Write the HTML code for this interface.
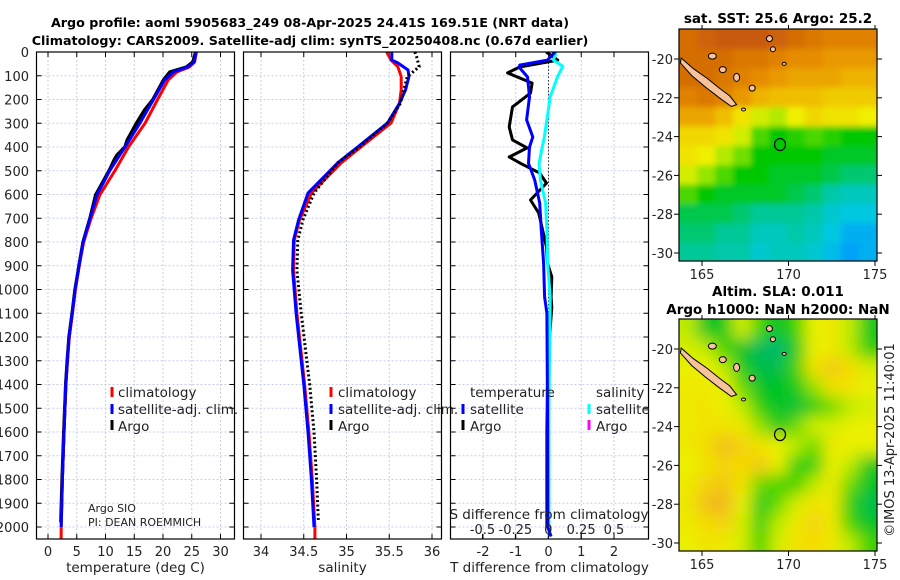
<!DOCTYPE html>
<html><head><meta charset="utf-8">
<style>
html,body{margin:0;padding:0;background:#fff;}
svg{display:block;font-family:"DejaVu Sans","Liberation Sans",sans-serif;}
</style></head>
<body>
<svg id="fig" width="900" height="580" viewBox="0 0 900 580" xmlns="http://www.w3.org/2000/svg">
<defs>
<clipPath id="cp1"><rect x="36.5" y="52" width="198" height="487"/></clipPath>
<clipPath id="cp2"><rect x="243.5" y="52" width="198" height="487"/></clipPath>
<clipPath id="cp3"><rect x="450.5" y="52" width="198" height="487"/></clipPath>
<clipPath id="cpm1"><rect x="679" y="29" width="198" height="232"/></clipPath>
<clipPath id="cpm2"><rect x="679" y="319" width="198" height="232"/></clipPath>
<filter id="blur1" x="-10%" y="-10%" width="120%" height="120%"><feGaussianBlur stdDeviation="3"/></filter>
<filter id="blur2" x="-10%" y="-10%" width="120%" height="120%"><feGaussianBlur stdDeviation="8"/></filter>
</defs>
<g font-weight="bold" font-size="12.7" text-anchor="middle">
<text x="310" y="27">Argo profile: aoml 5905683_249 08-Apr-2025 24.41S 169.51E (NRT data)</text>
<text x="310" y="45">Climatology: CARS2009. Satellite-adj clim: synTS_20250408.nc (0.67d earlier)</text>
</g>
<g id="root"></g>
</svg>
<script>
// ---------- data ----------
const depthTicks = [0,100,200,300,400,500,600,700,800,900,1000,1100,1200,1300,1400,1500,1600,1700,1800,1900,2000];
const tempTicks = [0,5,10,15,20,25,30];
const salTicks = [34,34.5,35,35.5,36];
const salTickLabels = ["34","34.5","35","35.5","36"];
const dTTicks = [-2,-1,0,1,2];
const dSTicks = [-0.5,-0.25,0,0.25,0.5];
const dSTickLabels = ["-0.5","-0.25","0","0.25","0.5"];

const tArgoDepth = [0,42,63,84,118,202,244,299,370,400,434,455,497,602,700,800,897,1002,1099,1200,1297,1394,1600,1800,1980];
const tArgoVal   = [25.7,25.2,24.1,21.2,20.1,18.2,16.8,15.4,13.8,13.4,12.0,11.5,10.7,8.3,7.3,6.1,5.4,4.7,4.2,3.65,3.35,3.1,2.75,2.45,2.25];
const tClimDepth = [0,42,63,84,118,202,299,400,497,602,700,800,897,1002,1099,1200,1297,1394,1600,1800,2000,2050];
const tClimVal   = [25.8,25.5,24.6,22.4,20.9,19.0,16.9,14.0,11.7,9.0,7.5,6.2,5.45,4.75,4.25,3.7,3.38,3.12,2.78,2.5,2.3,2.28];
const tSatDepth  = [0,42,63,84,118,202,299,400,497,602,700,800,897,1002,1099,1200,1297,1394,1600,1800,2000];
const tSatVal    = [25.8,25.4,24.3,21.8,20.3,18.3,16.0,13.4,10.8,8.5,7.3,6.1,5.4,4.7,4.2,3.65,3.35,3.1,2.78,2.5,2.3];

const sArgoDepth = [0,20,62,104,216,299,400,466,594,707,792,918,1100,1400,1600,1800,1970];
const sArgoVal   = [35.8,35.82,35.85,35.71,35.63,35.48,35.15,34.9,34.62,34.49,34.43,34.42,34.47,34.57,34.62,34.65,34.67];
const sClimDepth = [0,34,62,104,160,216,299,400,466,594,707,792,918,1100,1400,1600,1800,2000,2050];
const sClimVal   = [35.47,35.52,35.6,35.64,35.64,35.62,35.52,35.17,34.94,34.59,34.45,34.39,34.38,34.42,34.51,34.56,34.6,34.63,34.63];
const sSatDepth  = [0,34,46,76,104,160,216,299,400,466,594,707,792,918,1100,1400,1600,1800,2000];
const sSatVal    = [35.53,35.53,35.6,35.72,35.73,35.69,35.62,35.48,35.13,34.9,34.55,34.44,34.38,34.37,34.41,34.5,34.55,34.59,34.62];

const dTArgoDepth = [0,34,63,88,131,173,231,316,370,404,442,469,510,552,623,678,750,821,889,947,1031,1074,1300,1600,1900,2000];
const dTArgoVal   = [-0.07,0.28,-0.88,-1.25,-0.5,-0.55,-1.1,-1.2,-1.1,-0.65,-1.2,-0.85,-0.27,-0.06,-0.55,-0.3,-0.18,-0.06,-0.03,0.1,0.08,0.1,-0.02,-0.05,-0.05,-0.05];
const dTSatDepth  = [0,34,55,67,105,189,286,358,400,469,539,636,750,889,1031,1100,1500,2000,2040];
const dTSatVal    = [0.2,-0.03,-0.88,-0.88,-0.64,-0.58,-0.67,-0.48,-0.58,-0.61,-0.42,-0.27,-0.22,-0.15,-0.12,-0.05,-0.03,-0.02,0.08];
const dSSatDepth  = [0,34,60,105,189,286,358,469,539,636,750,889,1031,1500,2000,2040];
const dSSatVal    = [0.06,0.04,0.11,0.07,0.015,-0.01,-0.03,-0.07,-0.06,-0.02,-0.01,-0.005,0.015,0.005,0.005,0.01];

const mapLonTicks = [165,170,175];
const mapLatTicks = [-20,-22,-24,-26,-28,-30];
const sstGrid = [
[26.8,26.9,27.0,27.0,27.0,26.9,26.8,26.7,26.6,26.6,26.6],
[26.8,26.8,26.8,26.7,26.7,26.6,26.5,26.5,26.4,26.4,26.4],
[26.8,26.8,26.7,26.6,26.5,26.4,26.3,26.3,26.3,26.2,26.2],
[26.6,26.7,26.6,26.4,26.2,26.1,26.1,26.1,26.0,26.0,26.0],
[26.3,26.3,26.1,25.8,25.6,25.5,25.7,25.9,25.8,25.8,25.7],
[25.9,25.9,25.8,25.6,25.2,25.0,25.1,25.2,25.1,25.0,25.0],
[25.8,25.7,25.5,25.3,25.0,25.0,25.0,25.0,24.9,24.9,24.9],
[25.6,25.4,25.2,25.0,25.0,24.9,24.9,24.9,24.8,24.7,24.7],
[25.2,25.0,24.9,24.9,24.9,24.9,24.8,24.7,24.5,24.4,24.4],
[24.8,24.8,24.8,24.7,24.6,24.6,24.6,24.5,24.3,24.2,24.2],
[24.7,24.7,24.6,24.6,24.4,24.4,24.5,24.4,24.2,24.0,24.0],
[24.6,24.6,24.5,24.5,24.3,24.4,24.4,24.3,24.1,23.9,24.0]];
const slaGrid = [
[0.0,-0.6,-0.5,0.1,-0.3,-0.6,-0.3,0.2,0.3,0.0,-0.5],
[0.1,0.0,-0.3,-0.6,-0.9,-1.0,-0.5,0.2,0.3,0.0,-0.4],
[0.2,0.2,0.0,-0.5,-0.8,-0.8,-0.3,0.4,0.7,0.5,0.1],
[0.3,0.3,0.2,-0.2,-0.6,-0.6,-0.5,-0.1,0.4,0.4,0.2],
[0.3,0.4,0.2,0.0,-0.4,-0.6,-0.7,-0.4,-0.2,0.0,0.1],
[0.3,0.4,0.4,0.3,-0.1,-0.5,-0.2,0.1,0.1,0.2,0.2],
[0.3,0.5,0.8,0.6,0.4,0.2,0.0,-0.2,0.3,0.2,0.2],
[0.2,0.4,0.6,0.5,0.7,0.2,-0.4,-0.4,0.2,0.0,-0.5],
[0.3,0.6,0.7,0.4,-0.2,-0.3,-0.3,0.0,0.3,-0.2,-0.6],
[0.3,0.8,0.9,0.2,-0.5,-0.2,0.1,0.4,0.3,-0.4,-0.8],
[0.3,0.5,0.6,0.1,-0.4,0.0,0.3,0.6,0.3,-0.3,-0.6],
[0.2,0.4,0.3,0.1,-0.3,0.1,0.4,0.5,0.3,0.0,-0.3]];
const gridLon0 = 163.7, gridLat0 = -18.5;
const argoLon = 169.51, argoLat = -24.41;

// ---------- helpers ----------
const NS = "http://www.w3.org/2000/svg";
const root = document.getElementById('root');
function mk(tag, attrs, parent){ const e=document.createElementNS(NS,tag); for(const k in attrs) e.setAttribute(k,attrs[k]); (parent||root).appendChild(e); return e; }
function lin(d0,d1,r0,r1){ return v => r0 + (v-d0)*(r1-r0)/(d1-d0); }

const yD = lin(0,2000,52,527);
const panels = [
 {x0:36.5,x1:234.5,sx:lin(0,30,48,220.5),cp:'cp1',name:'temperature'},
 {x0:243.5,x1:441.5,sx:lin(34,36,261,432),cp:'cp2',name:'salinity'},
 {x0:450.5,x1:648.5,sx:lin(-2,2,483,614),cp:'cp3',name:'difference'}
];
const sxS = lin(-0.5,0.5,482.5,614);

function gridAndAxes(p, xt, xtl, labelText){
  const g = mk('g',{});
  
  
  depthTicks.forEach(d=>{
    mk('line',{x1:p.x0,x2:p.x1,y1:yD(d),y2:yD(d),stroke:'#c8cdea','stroke-width':1,'stroke-dasharray':'2 2'},g);
    mk('line',{x1:p.x0,x2:p.x0+5,y1:yD(d),y2:yD(d),stroke:'#000'},g);
    mk('line',{x1:p.x1,x2:p.x1-5,y1:yD(d),y2:yD(d),stroke:'#000'},g);
  });
  xt.forEach((v,i)=>{
    const x=p.sx(v);
    mk('line',{x1:x,x2:x,y1:52,y2:539,stroke:'#c8cdea','stroke-width':1,'stroke-dasharray':'2 2'},g);
    mk('line',{x1:x,x2:x,y1:539,y2:534,stroke:'#000'},g);
    mk('line',{x1:x,x2:x,y1:52,y2:57,stroke:'#000'},g);
    const t=mk('text',{x:x,y:556,'font-size':13,'text-anchor':'middle',fill:'#222'},g);
    t.textContent = xtl[i];
    
    
  });
  const lab = mk('text',{x:(p.x0+p.x1)/2,y:572,'font-size':13.5,'text-anchor':'middle',fill:'#222'},g);
  lab.textContent = labelText;
  
  
  return g;
}
function frame(p){
  const r = mk('rect',{x:p.x0,y:52,width:p.x1-p.x0,height:487,fill:'none',stroke:'#000','stroke-width':1.2});
  
  
}
function line(sx, depths, vals, color, w, dash, cp, name){
  const pts = depths.map((d,i)=> sx(vals[i]).toFixed(1)+','+yD(d).toFixed(1)).join(' ');
  const a = {points:pts,fill:'none',stroke:color,'stroke-width':w,'stroke-linejoin':'round','clip-path':'url(#'+cp+')'};
  if(dash) a['stroke-dasharray']=dash;
  const e = mk('polyline',a);
  
  
  return e;
}
function txt(x,y,s,size,attrs,name){
  const t = mk('text',Object.assign({x:x,y:y,'font-size':size,fill:'#222'},attrs||{}));
  t.textContent = s;
  
  
  return t;
}
function marker(x,y,color,name){
  const r = mk('rect',{x:x-1.5,y:y-10,width:3,height:10,fill:color});
  
  
}

depthTicks.forEach(d=>{ txt(29,yD(d)+5,String(d),13,{'text-anchor':'end'},'depth-tick-label'); });

// Panel 1
gridAndAxes(panels[0], tempTicks, tempTicks.map(String), 'temperature (deg C)');
line(panels[0].sx, tArgoDepth, tArgoVal, '#000', 3.5, null, 'cp1', 'temp-argo-line');
line(panels[0].sx, tClimDepth, tClimVal, '#f00', 3, null, 'cp1', 'temp-climatology-line');
line(panels[0].sx, tSatDepth, tSatVal, '#00f', 3, null, 'cp1', 'temp-satellite-line');
frame(panels[0]);
marker(112,397,'#f00','legend-climatology-marker'); txt(118,397,'climatology',13.5,{},'legend-climatology');
marker(112,414,'#00f','legend-satellite-marker'); txt(118,414,'satellite-adj. clim.',13.5,{},'legend-satellite');
marker(112,430,'#000','legend-argo-marker'); txt(118,431,'Argo',13.5,{},'legend-argo');
txt(88,512,'Argo SIO',11,{},'credit-argo-sio');
txt(88,526,'PI: DEAN ROEMMICH',11,{},'credit-pi');

// Panel 2
gridAndAxes(panels[1], salTicks, salTickLabels, 'salinity');
line(panels[1].sx, sClimDepth, sClimVal, '#f00', 3, null, 'cp2', 'sal-climatology-line');
line(panels[1].sx, sSatDepth, sSatVal, '#00f', 3, null, 'cp2', 'sal-satellite-line');
line(panels[1].sx, sArgoDepth, sArgoVal, '#000', 3, '2 2.5', 'cp2', 'sal-argo-line');
frame(panels[1]);
marker(331,397,'#f00','legend-sal-climatology-marker'); txt(338,397,'climatology',13.5,{},'legend-sal-climatology');
marker(331,414,'#00f','legend-sal-satellite-marker'); txt(338,414,'satellite-adj. clim.',13.5,{},'legend-sal-satellite');
marker(331,430,'#000','legend-sal-argo-marker'); txt(338,431,'Argo',13.5,{},'legend-sal-argo');

// Panel 3
gridAndAxes(panels[2], dTTicks, dTTicks.map(String), 'T difference from climatology');
const zl = mk('line',{x1:panels[2].sx(0),x2:panels[2].sx(0),y1:52,y2:539,stroke:'#333','stroke-width':1,'stroke-dasharray':'1.5 2'});


line(panels[2].sx, dTArgoDepth, dTArgoVal, '#000', 3, null, 'cp3', 'dt-argo-line');
line(sxS, dSSatDepth, dSSatVal, '#0ff', 3, null, 'cp3', 'ds-satellite-line');
line(panels[2].sx, dTSatDepth, dTSatVal, '#00f', 3, null, 'cp3', 'dt-satellite-line');
frame(panels[2]);
txt(470,397,'temperature',13.5,{},'legend-temperature-header');
marker(463,414,'#00f','legend-dt-satellite-marker'); txt(470,414,'satellite',13.5,{},'legend-dt-satellite');
marker(463,430,'#000','legend-dt-argo-marker'); txt(470,431,'Argo',13.5,{},'legend-dt-argo');
txt(596,397,'salinity',13.5,{},'legend-salinity-header');
marker(589,414,'#0ff','legend-ds-satellite-marker'); txt(596,414,'satellite',13.5,{},'legend-ds-satellite');
marker(589,430,'#f0f','legend-ds-argo-marker'); txt(596,431,'Argo',13.5,{},'legend-ds-argo');
txt(549,519,'S difference from climatology',13.5,{'text-anchor':'middle'},'s-axis-title');
dSTicks.forEach((v,i)=>{
  const x=sxS(v);
  mk('line',{x1:x,x2:x,y1:539,y2:534,stroke:'#000'});
  txt(x,534,dSTickLabels[i],13,{'text-anchor':'middle'},'s-tick-label');
});

// ---------- maps ----------
function sstColor(v){
  const st=[[23.8,[0,150,255]],[24.2,[0,200,225]],[24.6,[0,200,150]],[25.0,[0,200,0]],[25.4,[150,230,0]],[25.7,[240,240,0]],[26.1,[240,190,0]],[26.5,[230,140,0]],[27.0,[200,90,10]]];
  return interp(st,v);
}
function slaColor(v){
  const st=[[-1,[0,185,110]],[-0.6,[0,195,40]],[-0.3,[60,210,0]],[0,[190,235,0]],[0.2,[235,240,0]],[0.5,[245,220,0]],[1,[240,170,40]]];
  return interp(st,v);
}
function interp(st,v){
  if(v<=st[0][0]) return 'rgb('+st[0][1].join(',')+')';
  for(let i=1;i<st.length;i++){ if(v<=st[i][0]){ const t=(v-st[i-1][0])/(st[i][0]-st[i-1][0]); const c=st[i-1][1].map((a,k)=>Math.round(a+(st[i][1][k]-a)*t)); return 'rgb('+c.join(',')+')'; } }
  return 'rgb('+st[st.length-1][1].join(',')+')';
}
function drawMap(top, grid, colorFn, blurId, cp, name){
  const sx = lin(165,175,702,875);
  const sy = lin(-20,-30,top+30,top+224);
  const outer = mk('g',{'clip-path':'url(#'+cp+')'});
  
  
  const g = mk('g',{filter:'url(#'+blurId+')'},outer);
  const rows = grid.length, cols = grid[0].length;
  for(let r=-1;r<=rows;r++) for(let c=-1;c<=cols;c++){
    const rr=Math.min(Math.max(r,0),rows-1), cc=Math.min(Math.max(c,0),cols-1);
    const lon0 = gridLon0 + c*1.04, lat0 = gridLat0 - r*1.0;
    const x=sx(lon0), y=sy(lat0);
    const cell = mk('rect',{x:x-0.5,y:y-0.5,width:sx(lon0+1.04)-x+1,height:sy(lat0-1)-y+1,fill:colorFn(grid[rr][cc])},g);
    
    
  }
  const isl = [[163.8,-19.95],[164.5,-20.5],[165.3,-21.0],[166.0,-21.5],[166.6,-21.9],[167.0,-22.35],[166.7,-22.45],[166.0,-22.0],[165.2,-21.45],[164.4,-20.85],[163.75,-20.2]];
  const ip = mk('polygon',{points:isl.map(p=>sx(p[0]).toFixed(1)+','+sy(p[1]).toFixed(1)).join(' '),fill:'#f7c39b',stroke:'#000','stroke-width':1},outer);
  
  
  [[165.6,-19.85,4,3],[166.2,-20.55,3.5,3],[167.0,-20.95,3,4],[167.9,-21.5,3,3],[168.9,-18.95,3,3],[169.1,-19.5,2.5,2.5],[169.75,-20.25,2,1.5],[167.4,-22.6,2,1.5]].forEach(s=>{
    const e = mk('ellipse',{cx:sx(s[0]),cy:sy(s[1]),rx:s[2],ry:s[3],fill:'#f7c39b',stroke:'#000','stroke-width':1},outer);
    
    
  });
  const ac = mk('ellipse',{cx:sx(argoLon),cy:sy(argoLat),rx:5.5,ry:6,fill:'none',stroke:'#000','stroke-width':1.2},outer);
  
  
  const fr = mk('rect',{x:679,y:top,width:198,height:232,fill:'none',stroke:'#000','stroke-width':1.2});
  
  
  mapLatTicks.forEach(v=>{
    const y=sy(v);
    mk('line',{x1:674,x2:679,y1:y,y2:y,stroke:'#000'});
    mk('line',{x1:877,x2:882,y1:y,y2:y,stroke:'#000'});
    txt(673,y+5,String(v),13,{'text-anchor':'end'},'map-lat-tick-label');
  });
  mapLonTicks.forEach(v=>{
    const x=sx(v);
    mk('line',{x1:x,x2:x,y1:top+232,y2:top+237,stroke:'#000'});
    mk('line',{x1:x,x2:x,y1:top,y2:top-4,stroke:'#000'});
    txt(x,top+250,String(v),13,{'text-anchor':'middle'},'map-lon-tick-label');
  });
}
drawMap(29, sstGrid, sstColor, 'blur1', 'cpm1', 'sst-map');
drawMap(319, slaGrid, slaColor, 'blur2', 'cpm2', 'sla-map');
txt(778,23,'sat. SST: 25.6 Argo: 25.2',13.5,{'text-anchor':'middle','font-weight':'bold',fill:'#000'},'sst-map-title');
txt(778,296,'Altim. SLA: 0.011',13.5,{'text-anchor':'middle','font-weight':'bold',fill:'#000'},'sla-map-title');
txt(778,314,'Argo h1000: NaN h2000: NaN',13.5,{'text-anchor':'middle','font-weight':'bold',fill:'#000'},'sla-map-subtitle');
txt(0,0,'©IMOS 13-Apr-2025 11:40:01',13,{transform:'translate(894,440) rotate(-90)','text-anchor':'middle'},'imos-timestamp');
</script>
</body></html>
